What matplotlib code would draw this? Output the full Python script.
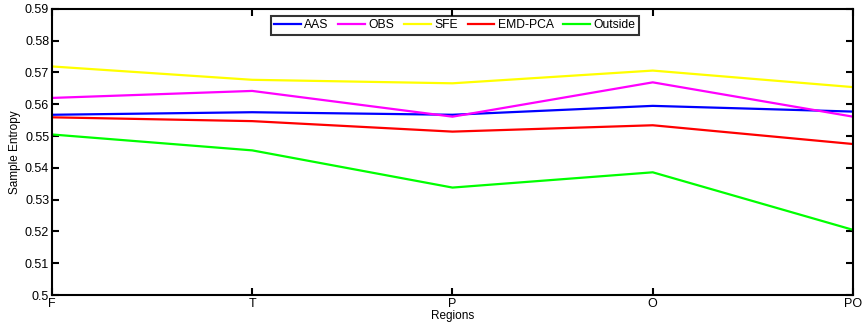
import matplotlib
matplotlib.use("Agg")
import matplotlib.pyplot as plt

plt.rcParams['font.family'] = ['Liberation Sans', 'DejaVu Sans']

regions = ['F', 'T', 'P', 'O', 'PO']
aas = [0.5567, 0.5575, 0.5567, 0.5595, 0.5577]
obs = [0.5620, 0.5642, 0.5561, 0.5669, 0.5561]
sfe = [0.5719, 0.5677, 0.5666, 0.5706, 0.5654]
emd = [0.5559, 0.5547, 0.5514, 0.5534, 0.5475]
outside = [0.5505, 0.5455, 0.5338, 0.5386, 0.5205]

series = [('AAS', aas, '#0000ff'), ('OBS', obs, '#ff00ff'), ('SFE', sfe, '#ffff00'),
          ('EMD-PCA', emd, '#ff0000'), ('Outside', outside, '#00ff00')]

fig = plt.figure(figsize=(8.66, 3.3), dpi=100)
ax = fig.add_axes([0.060, 0.106, 0.925, 0.867])
x = range(len(regions))
for name, vals, col in series:
    ax.plot(x, vals, color=col, lw=1.6, label=name)

ax.set_xlim(0, len(regions) - 1)
ax.set_ylim(0.5, 0.59)
ax.set_xticks(list(x))
ax.set_xticklabels(regions)
yt = [0.5, 0.51, 0.52, 0.53, 0.54, 0.55, 0.56, 0.57, 0.58, 0.59]
ax.set_yticks(yt)
ax.set_yticklabels(['0.5'] + ['%.2f' % v for v in yt[1:]])
ax.tick_params(direction='in', length=5, width=1.5, top=True, right=True, labelsize=9, pad=2)
for s in ax.spines.values():
    s.set_linewidth(1.5)
ax.set_xlabel('Regions', fontsize=8.5, labelpad=0)
ax.set_ylabel('Sample Entropy', fontsize=8.5, labelpad=3)

leg = ax.legend(loc='upper center', bbox_to_anchor=(0.503, 0.985), ncol=5, fontsize=8.7,
                frameon=True, fancybox=False, edgecolor='black', handlelength=2.2,
                handletextpad=0.3, columnspacing=0.8, borderpad=0.3, borderaxespad=0.2)
leg.get_frame().set_linewidth(1.5)

fig.savefig('out.png', dpi=100)
